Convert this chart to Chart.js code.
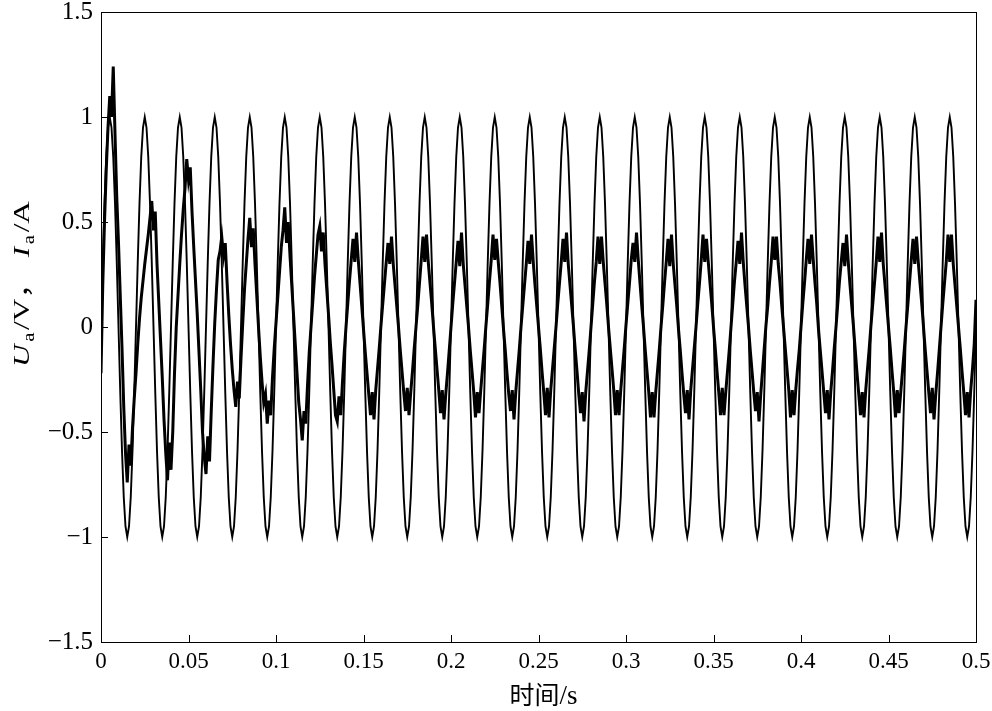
<!DOCTYPE html>
<html>
<head>
<meta charset="utf-8">
<script src="https://cdn.jsdelivr.net/npm/chart.js@4.4.1/dist/chart.umd.min.js"></script>
<style>
  body { margin: 0; background: #fff; }
  #myChart { display: block; }
</style>
</head>
<body>
<canvas id="myChart" width="992" height="711"></canvas>
<script>
// ====== Ua / Ia waveform =========

// sample time step (s), first sample at t = 0
const T0 = 0;
const DT = 0.001;

// x ticks
const xTicks = [0, 0.05, 0.1, 0.15, 0.2, 0.25, 0.3, 0.35, 0.4, 0.45, 0.5];
// y ticks
const yTicks = [-1.5, -1, -0.5, 0, 0.5, 1, 1.5];

// Ua (V), one row per 20 ms
const voltage = [
  0, .31, .59, .81, .95, 1, .95, .81, .59, .31, 0, -.31, -.59, -.81, -.95, -1, -.95, -.81, -.59, -.31,
  0, .31, .59, .81, .95, 1, .95, .81, .59, .31, 0, -.31, -.59, -.81, -.95, -1, -.95, -.81, -.59, -.31,
  0, .31, .59, .81, .95, 1, .95, .81, .59, .31, 0, -.31, -.59, -.81, -.95, -1, -.95, -.81, -.59, -.31,
  0, .31, .59, .81, .95, 1, .95, .81, .59, .31, 0, -.31, -.59, -.81, -.95, -1, -.95, -.81, -.59, -.31,
  0, .31, .59, .81, .95, 1, .95, .81, .59, .31, 0, -.31, -.59, -.81, -.95, -1, -.95, -.81, -.59, -.31,
  0, .31, .59, .81, .95, 1, .95, .81, .59, .31, 0, -.31, -.59, -.81, -.95, -1, -.95, -.81, -.59, -.31,
  0, .31, .59, .81, .95, 1, .95, .81, .59, .31, 0, -.31, -.59, -.81, -.95, -1, -.95, -.81, -.59, -.31,
  0, .31, .59, .81, .95, 1, .95, .81, .59, .31, 0, -.31, -.59, -.81, -.95, -1, -.95, -.81, -.59, -.31,
  0, .31, .59, .81, .95, 1, .95, .81, .59, .31, 0, -.31, -.59, -.81, -.95, -1, -.95, -.81, -.59, -.31,
  0, .31, .59, .81, .95, 1, .95, .81, .59, .31, 0, -.31, -.59, -.81, -.95, -1, -.95, -.81, -.59, -.31,
  0, .31, .59, .81, .95, 1, .95, .81, .59, .31, 0, -.31, -.59, -.81, -.95, -1, -.95, -.81, -.59, -.31,
  0, .31, .59, .81, .95, 1, .95, .81, .59, .31, 0, -.31, -.59, -.81, -.95, -1, -.95, -.81, -.59, -.31,
  0, .31, .59, .81, .95, 1, .95, .81, .59, .31, 0, -.31, -.59, -.81, -.95, -1, -.95, -.81, -.59, -.31,
  0, .31, .59, .81, .95, 1, .95, .81, .59, .31, 0, -.31, -.59, -.81, -.95, -1, -.95, -.81, -.59, -.31,
  0, .31, .59, .81, .95, 1, .95, .81, .59, .31, 0, -.31, -.59, -.81, -.95, -1, -.95, -.81, -.59, -.31,
  0, .31, .59, .81, .95, 1, .95, .81, .59, .31, 0, -.31, -.59, -.81, -.95, -1, -.95, -.81, -.59, -.31,
  0, .31, .59, .81, .95, 1, .95, .81, .59, .31, 0, -.31, -.59, -.81, -.95, -1, -.95, -.81, -.59, -.31,
  0, .31, .59, .81, .95, 1, .95, .81, .59, .31, 0, -.31, -.59, -.81, -.95, -1, -.95, -.81, -.59, -.31,
  0, .31, .59, .81, .95, 1, .95, .81, .59, .31, 0, -.31, -.59, -.81, -.95, -1, -.95, -.81, -.59, -.31,
  0, .31, .59, .81, .95, 1, .95, .81, .59, .31, 0, -.31, -.59, -.81, -.95, -1, -.95, -.81, -.59, -.31,
  0, .31, .59, .81, .95, 1, .95, .81, .59, .31, 0, -.31, -.59, -.81, -.95, -1, -.95, -.81, -.59, -.31,
  0, .31, .59, .81, .95, 1, .95, .81, .59, .31, 0, -.31, -.59, -.81, -.95, -1, -.95, -.81, -.59, -.31,
  0, .31, .59, .81, .95, 1, .95, .81, .59, .31, 0, -.31, -.59, -.81, -.95, -1, -.95, -.81, -.59, -.31,
  0, .31, .59, .81, .95, 1, .95, .81, .59, .31, 0, -.31, -.59, -.81, -.95, -1, -.95, -.81, -.59, -.31,
  0, .31, .59, .81, .95, 1, .95, .81, .59, .31, 0, -.31, -.59, -.81, -.95, -1, -.95, -.81, -.59, -.31,
  0
];

// Ia (A), one row per 20 ms, start-up transient then steady
const current = [
  -0.22, 0.20, 0.50, 0.75, 0.95, 1.10, 1.00, 1.24, 0.92, 0.62, 0.40, 0.15, -0.10, -0.38, -0.60, -0.74, -0.56, -0.66, -0.48, -0.34,
  -0.22, -0.08, 0.04, 0.14, 0.22, 0.30, 0.37, 0.44, 0.52, 0.60, 0.46, 0.55, 0.30, 0.12, -0.06, -0.24, -0.44, -0.60, -0.73, -0.55,
  -0.68, -0.50, -0.22, 0.00, 0.15, 0.30, 0.44, 0.56, 0.66, 0.80, 0.70, 0.76, 0.55, 0.38, 0.22, 0.06, -0.12, -0.30, -0.50, -0.62,
  -0.70, -0.52, -0.64, -0.40, -0.18, 0.02, 0.18, 0.32, 0.36, 0.43, 0.34, 0.40, 0.22, 0.06, -0.08, -0.20, -0.30, -0.38, -0.26, -0.34,
  -0.15, 0.02, 0.18, 0.30, 0.42, 0.52, 0.38, 0.47, 0.30, 0.15, 0.00, -0.14, -0.26, -0.36, -0.32, -0.46, -0.35, -0.42, -0.24, -0.10,
  0.02, 0.14, 0.26, 0.38, 0.46, 0.57, 0.40, 0.50, 0.34, 0.20, 0.06, -0.08, -0.22, -0.36, -0.44, -0.54, -0.40, -0.46, -0.28, -0.12,
  0.00, 0.12, 0.24, 0.34, 0.44, 0.48, 0.36, 0.45, 0.30, 0.18, 0.06, -0.07, -0.18, -0.30, -0.42, -0.45, -0.33, -0.42, -0.26, -0.12,
  0.00, 0.11, 0.22, 0.32, 0.42, 0.31, 0.45, 0.32, 0.21, 0.10, -0.01, -0.12, -0.22, -0.32, -0.42, -0.31, -0.44, -0.30, -0.20, -0.10,
  0.01, 0.11, 0.21, 0.31, 0.40, 0.30, 0.43, 0.30, 0.20, 0.10, 0.00, -0.11, -0.21, -0.31, -0.40, -0.29, -0.42, -0.31, -0.21, -0.10,
  0.00, 0.10, 0.21, 0.32, 0.43, 0.31, 0.44, 0.31, 0.21, 0.11, 0.00, -0.10, -0.20, -0.30, -0.41, -0.30, -0.44, -0.32, -0.22, -0.11,
  0.00, 0.11, 0.21, 0.31, 0.41, 0.29, 0.45, 0.30, 0.20, 0.10, 0.00, -0.11, -0.21, -0.31, -0.43, -0.31, -0.41, -0.30, -0.20, -0.10,
  0.01, 0.11, 0.22, 0.32, 0.44, 0.32, 0.42, 0.31, 0.21, 0.10, -0.01, -0.11, -0.22, -0.32, -0.40, -0.30, -0.44, -0.31, -0.21, -0.11,
  0.00, 0.10, 0.20, 0.30, 0.41, 0.30, 0.44, 0.31, 0.20, 0.10, 0.00, -0.10, -0.21, -0.31, -0.42, -0.29, -0.43, -0.30, -0.20, -0.10,
  0.00, 0.11, 0.21, 0.31, 0.42, 0.31, 0.45, 0.30, 0.20, 0.10, 0.00, -0.11, -0.21, -0.32, -0.41, -0.31, -0.45, -0.31, -0.21, -0.11,
  0.00, 0.11, 0.22, 0.31, 0.43, 0.30, 0.43, 0.31, 0.21, 0.11, 0.00, -0.10, -0.20, -0.30, -0.42, -0.30, -0.42, -0.30, -0.20, -0.10,
  0.01, 0.11, 0.21, 0.32, 0.40, 0.31, 0.45, 0.32, 0.21, 0.10, 0.00, -0.11, -0.21, -0.31, -0.43, -0.31, -0.43, -0.31, -0.21, -0.11,
  0.00, 0.10, 0.21, 0.31, 0.42, 0.29, 0.44, 0.30, 0.20, 0.10, -0.01, -0.11, -0.22, -0.32, -0.41, -0.30, -0.44, -0.30, -0.20, -0.10,
  0.00, 0.11, 0.21, 0.32, 0.44, 0.31, 0.42, 0.31, 0.21, 0.11, 0.00, -0.10, -0.21, -0.31, -0.42, -0.29, -0.42, -0.31, -0.21, -0.11,
  0.00, 0.11, 0.22, 0.31, 0.41, 0.30, 0.45, 0.31, 0.20, 0.10, 0.00, -0.11, -0.21, -0.31, -0.40, -0.31, -0.45, -0.32, -0.21, -0.10,
  0.01, 0.10, 0.21, 0.31, 0.43, 0.32, 0.43, 0.30, 0.21, 0.10, 0.00, -0.10, -0.20, -0.30, -0.43, -0.30, -0.42, -0.30, -0.20, -0.11,
  0.00, 0.11, 0.21, 0.32, 0.42, 0.30, 0.44, 0.32, 0.21, 0.11, -0.01, -0.11, -0.21, -0.31, -0.41, -0.30, -0.44, -0.31, -0.21, -0.10,
  0.00, 0.11, 0.22, 0.31, 0.40, 0.29, 0.44, 0.31, 0.20, 0.10, 0.00, -0.11, -0.22, -0.32, -0.42, -0.31, -0.43, -0.30, -0.20, -0.10,
  0.01, 0.11, 0.21, 0.31, 0.43, 0.31, 0.45, 0.30, 0.20, 0.10, 0.00, -0.10, -0.21, -0.31, -0.43, -0.30, -0.41, -0.31, -0.21, -0.11,
  0.00, 0.10, 0.21, 0.32, 0.42, 0.30, 0.43, 0.31, 0.21, 0.11, 0.00, -0.11, -0.21, -0.31, -0.41, -0.29, -0.44, -0.32, -0.22, -0.11,
  0.00, 0.11, 0.21, 0.31, 0.44, 0.31, 0.44, 0.30, 0.20, 0.10, 0.00, -0.10, -0.21, -0.31, -0.42, -0.31, -0.43, -0.30, -0.20, -0.08,
  0.13
];

// axis titles
const xTitle = [["时间", '25px "Noto Sans CJK SC"'], ["/s", '27px "Liberation Serif"']];
// [text, font, shift toward the axis, extra gap after]
const yTitle = [
  ["U", 'italic 24px "Liberation Serif"', 0, 2],
  ["a", '16px "Liberation Serif"', 5, 2],
  ["/V", '24px "Liberation Serif"', 0, 0],
  ["，", '24px "Noto Sans CJK SC"', 0, 8],
  ["I", 'italic 24px "Liberation Serif"', 0, 2],
  ["a", '16px "Liberation Serif"', 5, 2],
  ["/A", '24px "Liberation Serif"', 0, 0],
];

function toPoints(arr) {
  let pts = [];
  for (let i = 0; i < arr.length; i++) {
    pts.push({ x: T0 + i * DT, y: arr[i] });
  }
  return pts;
}

function fmt(v) {
  let s = String(+Math.abs(v).toFixed(2));
  return v < 0 ? "\u2212" + s : s;
}

// box, inward ticks and the two axis titles
const frame = {
  id: "frame",
  afterDraw(chart) {
    const c = chart.ctx;
    const a = chart.chartArea;
    const sx = chart.scales.x;
    const sy = chart.scales.y;
    c.save();
    c.strokeStyle = "#000";
    c.lineWidth = 1;
    c.strokeRect(a.left + 0.5, a.top + 0.5, a.right - a.left, a.bottom - a.top);
    c.beginPath();
    xTicks.forEach((v) => {
      let px = Math.round(sx.getPixelForValue(v)) + 0.5;
      c.moveTo(px, a.bottom);
      c.lineTo(px, a.bottom - 7);
    });
    yTicks.forEach((v) => {
      let py = Math.round(sy.getPixelForValue(v)) + 0.5;
      c.moveTo(a.left, py);
      c.lineTo(a.left + 7, py);
    });
    c.stroke();

    c.fillStyle = "#000";
    c.textBaseline = "alphabetic";
    // x title
    let w = 0;
    xTitle.forEach((p) => { c.font = p[1]; w += c.measureText(p[0]).width; });
    let x = (a.left + a.right) / 2 - w / 2 + 5;
    xTitle.forEach((p) => {
      c.font = p[1];
      c.fillText(p[0], x, 704);
      x += c.measureText(p[0]).width;
    });
    // y title, rotated and a bit stretched along its length
    c.translate(29, 284);
    c.rotate(-Math.PI / 2);
    c.scale(1.3, 1);
    w = 0;
    yTitle.forEach((p) => { c.font = p[1]; w += c.measureText(p[0]).width + p[3]; });
    x = -w / 2;
    yTitle.forEach((p) => {
      c.font = p[1];
      c.fillText(p[0], x, p[2]);
      x += c.measureText(p[0]).width + p[3];
    });
    c.restore();
  },
};

let ctx = document.getElementById("myChart").getContext("2d");
var graphie = new Chart(ctx, {
  type: "line",
  data: {
    datasets: [
      {
        label: "Ia",
        data: toPoints(current),
        borderColor: "#000",
        borderWidth: 3,
        pointRadius: 0,
        tension: 0,
      },
      {
        label: "Ua",
        data: toPoints(voltage),
        borderColor: "#000",
        borderWidth: 1.9,
        pointRadius: 0,
        tension: 0,
      },
    ],
  },
  options: {
    responsive: false,
    animation: false,
    layout: { padding: { top: 12, right: 16, left: 0, bottom: 0 } },
    plugins: { legend: { display: false }, tooltip: { enabled: false } },
    scales: {
      x: {
        type: "linear",
        min: 0,
        max: 0.5,
        afterBuildTicks: (s) => { s.ticks = xTicks.map((v) => ({ value: v })); },
        afterFit: (s) => { s.height = 69; s.paddingLeft = 0; s.paddingRight = 0; },
        ticks: {
          padding: 6,
          maxRotation: 0,
          autoSkip: false,
          color: "#000",
          font: { family: "Liberation Serif", size: 23 },
          callback: (v) => fmt(v),
        },
        grid: { display: false, drawTicks: false },
        border: { display: false },
      },
      y: {
        min: -1.5,
        max: 1.5,
        afterBuildTicks: (s) => { s.ticks = yTicks.map((v) => ({ value: v })); },
        afterFit: (s) => { s.width = 101; s.paddingTop = 0; s.paddingBottom = 0; },
        ticks: {
          padding: 8,
          autoSkip: false,
          color: "#000",
          font: { family: "Liberation Serif", size: 25 },
          callback: (v) => fmt(v),
        },
        grid: { display: false, drawTicks: false },
        border: { display: false },
      },
    },
  },
  plugins: [frame],
});
</script>
</body>
</html>
